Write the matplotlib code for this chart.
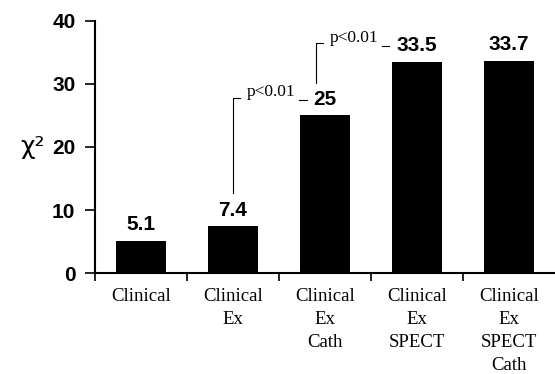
import numpy as np
import matplotlib.pyplot as plt

# categorias e valores do qui-quadrado
categorias = ["Clinical", "Clinical\nEx", "Clinical\nEx\nCath",
              "Clinical\nEx\nSPECT", "Clinical\nEx\nSPECT\nCath"]
valores = [5.1, 7.4, 25, 33.5, 33.7]
rotulos = ["5.1", "7.4", "25", "33.5", "33.7"]

# colchetes de significancia: (x da linha, y inicial, y final, texto)
colchetes = [(1.0, 12.7, 27.8, "p<0.01"), (1.9, 30.2, 36.5, "p<0.01")]

fig = plt.figure(figsize=(5.55, 3.74), dpi=100)
ax = fig.add_axes([0.171, 0.27, 0.829, 0.674])

x = np.arange(len(valores))
ax.bar(x, valores, width=0.54, color="black")

for xi, v, r in zip(x, valores, rotulos):
    ax.text(xi, v + 2.6, r, ha="center", va="center", fontsize=15,
            fontweight="bold", fontfamily="Liberation Sans")

# colchetes com p<0.01
for xc, y0, y1, txt in colchetes:
    ax.plot([xc, xc, xc + 0.08], [y0, y1, y1], color="black", lw=0.8)
    ax.text(xc + 0.15, y1 - 0.4, txt, ha="left", va="bottom", fontsize=12.5,
            fontfamily="Liberation Serif")
    ax.plot([xc + 0.72, xc + 0.8], [y1 - 0.4, y1 - 0.4], color="black", lw=0.8)

ax.set_xlim(-0.5, 4.5)
ax.set_ylim(0, 40)
ax.spines["top"].set_visible(False)
ax.spines["right"].set_visible(False)
ax.spines["left"].set_linewidth(1.5)
ax.spines["bottom"].set_linewidth(1.5)

ax.set_yticks([0, 10, 20, 30, 40])
ax.set_yticklabels(["0", "10", "20", "30", "40"], fontsize=15,
                   fontweight="bold", fontfamily="Liberation Sans")
ax.tick_params(axis="y", direction="out", length=7, width=1.2, pad=7)

# ticks nas bordas das categorias, rotulos no centro
ax.set_xticks([-0.5, 0.5, 1.5, 2.5, 3.5])
ax.set_xticklabels([])
ax.tick_params(axis="x", which="major", direction="out", length=6, width=1.2)
ax.set_xticks(x, minor=True)
ax.set_xticklabels(categorias, minor=True, fontsize=13.5,
                   fontfamily="Liberation Serif", linespacing=1.45, va="top")
ax.tick_params(axis="x", which="minor", length=0, pad=11)

ax.set_ylabel("χ²", rotation=0, fontsize=18, va="center",
              fontfamily="DejaVu Sans")
ax.yaxis.set_label_coords(-0.135, 0.5)

plt.savefig("out.png", dpi=100)
